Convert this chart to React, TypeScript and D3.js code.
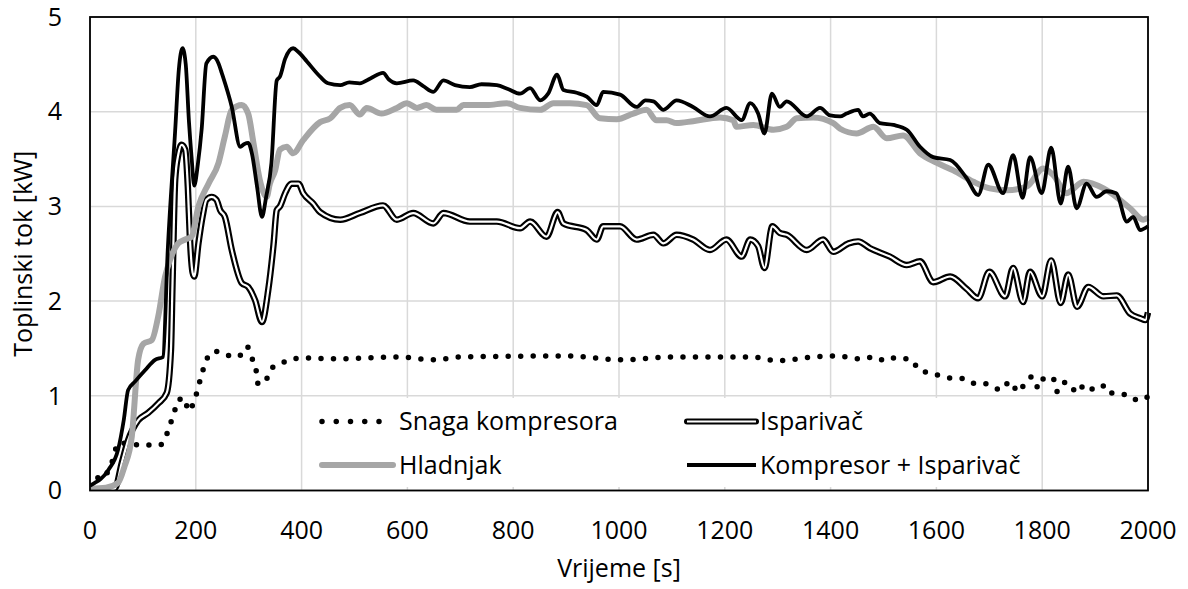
import React from "react";
import * as d3 from "d3";

const W = 1188;
const H = 589;

const xTicks = [0, 200, 400, 600, 800, 1000, 1200, 1400, 1600, 1800, 2000];
const yTicks = [0, 1, 2, 3, 4, 5];

// Kompresor + Isparivač
const kompT = [0, 9, 20, 35, 53, 64, 72, 85, 104, 123, 138, 147, 161, 168, 175, 181, 187, 192, 197, 204, 211, 220, 233, 243, 249, 268, 284, 292, 299, 306, 316, 325, 333, 343, 353, 359, 369, 384, 394, 410, 435, 450, 473, 490, 510, 530, 554, 565, 580, 611, 630, 649, 668, 690, 718, 740, 769, 790, 813, 832, 851, 866, 883, 895, 920, 939, 958, 970, 1002, 1033, 1050, 1065, 1084, 1109, 1140, 1172, 1203, 1232, 1248, 1263, 1275, 1289, 1304, 1317, 1355, 1380, 1399, 1418, 1430, 1452, 1461, 1474, 1493, 1519, 1544, 1569, 1594, 1626, 1657, 1679, 1698, 1726, 1745, 1763, 1777, 1799, 1817, 1835, 1849, 1865, 1884, 1903, 1922, 1940, 1960, 1972, 1985, 2000];
const kompV = [0.05, 0.08, 0.12, 0.22, 0.43, 0.75, 1.06, 1.15, 1.27, 1.38, 1.41, 2.54, 3.8, 4.45, 4.67, 4.5, 3.9, 3.52, 3.22, 3.45, 3.81, 4.51, 4.58, 4.51, 4.41, 4.05, 3.63, 3.66, 3.67, 3.56, 3.2, 2.89, 3.1, 3.46, 4.33, 4.37, 4.56, 4.67, 4.63, 4.53, 4.37, 4.3, 4.28, 4.31, 4.3, 4.35, 4.41, 4.34, 4.3, 4.33, 4.27, 4.21, 4.33, 4.28, 4.26, 4.29, 4.28, 4.24, 4.19, 4.25, 4.12, 4.19, 4.39, 4.23, 4.2, 4.16, 4.07, 4.21, 4.18, 4.05, 4.12, 4.11, 4.02, 4.12, 4.05, 3.95, 4.04, 3.91, 4.09, 3.98, 3.77, 4.19, 4.05, 4.11, 3.95, 4.04, 3.96, 3.95, 3.98, 4.02, 3.95, 3.98, 3.88, 3.86, 3.81, 3.63, 3.52, 3.49, 3.3, 3.12, 3.44, 3.14, 3.54, 3.09, 3.52, 3.14, 3.62, 3.03, 3.42, 2.98, 3.24, 3.1, 3.16, 3.14, 2.84, 2.89, 2.75, 2.79];

// Hladnjak
const hladT = [0, 30, 53, 65, 79, 91, 101, 117, 129, 142, 151, 167, 180, 192, 205, 224, 243, 255, 268, 287, 299, 309, 321, 334, 340, 350, 359, 372, 384, 403, 435, 454, 473, 491, 510, 523, 551, 580, 599, 618, 636, 655, 693, 706, 750, 788, 813, 851, 876, 907, 939, 964, 996, 1027, 1052, 1071, 1090, 1109, 1140, 1191, 1216, 1222, 1254, 1292, 1317, 1336, 1367, 1405, 1418, 1449, 1481, 1506, 1537, 1569, 1601, 1632, 1670, 1701, 1733, 1771, 1802, 1821, 1846, 1878, 1916, 1966, 1991, 2000];
const hladV = [0.02, 0.03, 0.08, 0.25, 0.57, 1.38, 1.55, 1.59, 1.84, 2.26, 2.43, 2.61, 2.65, 2.68, 3.0, 3.24, 3.46, 3.74, 4.02, 4.07, 3.98, 3.67, 3.28, 3.1, 3.24, 3.38, 3.6, 3.63, 3.56, 3.7, 3.89, 3.93, 4.04, 4.07, 3.97, 4.04, 3.98, 4.04, 4.09, 4.04, 4.07, 4.02, 4.02, 4.07, 4.07, 4.09, 4.04, 4.02, 4.09, 4.09, 4.07, 3.93, 3.92, 3.98, 4.02, 3.91, 3.91, 3.88, 3.9, 3.94, 3.91, 3.84, 3.86, 3.81, 3.84, 3.93, 3.94, 3.88, 3.82, 3.77, 3.84, 3.72, 3.75, 3.56, 3.46, 3.38, 3.26, 3.19, 3.17, 3.21, 3.4, 3.33, 3.14, 3.26, 3.19, 2.98, 2.86, 2.88];

// Isparivač
const ispT = [0, 47, 60, 72, 91, 110, 129, 145, 153, 156, 161, 167, 173, 180, 185, 189, 194, 197, 205, 213, 220, 230, 239, 246, 255, 268, 287, 299, 312, 325, 337, 347, 353, 359, 369, 381, 394, 403, 422, 435, 473, 510, 554, 580, 611, 649, 668, 718, 769, 813, 832, 863, 884, 895, 939, 958, 970, 1002, 1033, 1065, 1084, 1109, 1140, 1172, 1203, 1232, 1248, 1263, 1275, 1290, 1304, 1317, 1355, 1386, 1405, 1434, 1452, 1474, 1512, 1544, 1569, 1594, 1626, 1657, 1679, 1700, 1730, 1745, 1764, 1777, 1800, 1817, 1835, 1849, 1866, 1887, 1916, 1941, 1966, 1985, 1995, 2000];
const ispV = [0, 0.02, 0.29, 0.53, 0.74, 0.82, 0.92, 1.03, 1.48, 2.19, 3.28, 3.55, 3.65, 3.6, 3.2, 2.65, 2.3, 2.26, 2.61, 2.9, 3.07, 3.1, 3.07, 2.96, 2.89, 2.54, 2.19, 2.15, 2.01, 1.78, 2.12, 2.6, 2.96, 3.0, 3.14, 3.24, 3.24, 3.14, 3.03, 2.94, 2.86, 2.93, 3.01, 2.86, 2.93, 2.82, 2.93, 2.84, 2.84, 2.77, 2.84, 2.68, 2.94, 2.82, 2.75, 2.65, 2.79, 2.79, 2.65, 2.7, 2.61, 2.7, 2.65, 2.54, 2.65, 2.47, 2.65, 2.58, 2.35, 2.79, 2.72, 2.7, 2.54, 2.65, 2.52, 2.61, 2.63, 2.56, 2.47, 2.38, 2.42, 2.2, 2.26, 2.13, 2.03, 2.31, 2.05, 2.35, 1.99, 2.31, 2.05, 2.43, 1.98, 2.28, 1.94, 2.15, 2.05, 2.06, 1.87, 1.82, 1.8, 1.88];

// Snaga kompresora
const snagaT = [0, 6, 12, 20, 28, 41, 54, 65, 75, 91, 110, 132, 142, 151, 159, 167, 180, 185, 198, 205, 212, 220, 236, 258, 280, 297, 306, 314, 318, 333, 343, 361, 384, 410, 460, 580, 652, 700, 900, 1008, 1100, 1250, 1301, 1323, 1364, 1411, 1459, 1482, 1503, 1519, 1553, 1566, 1588, 1601, 1622, 1654, 1673, 1690, 1705, 1722, 1739, 1755, 1769, 1781, 1793, 1805, 1821, 1829, 1843, 1853, 1865, 1881, 1900, 1920, 1931, 1947, 1966, 1981, 2000];
const snagaV = [0.05, 0.11, 0.14, 0.12, 0.15, 0.29, 0.5, 0.5, 0.5, 0.48, 0.48, 0.48, 0.55, 0.69, 0.82, 0.96, 0.97, 0.84, 0.96, 1.1, 1.24, 1.38, 1.47, 1.43, 1.41, 1.52, 1.4, 1.27, 1.12, 1.17, 1.29, 1.34, 1.39, 1.4, 1.39, 1.41, 1.38, 1.41, 1.42, 1.38, 1.41, 1.41, 1.37, 1.38, 1.41, 1.42, 1.39, 1.41, 1.37, 1.4, 1.38, 1.28, 1.24, 1.22, 1.19, 1.18, 1.13, 1.13, 1.1, 1.06, 1.15, 1.04, 1.15, 1.2, 1.08, 1.2, 1.18, 1.04, 1.14, 1.12, 1.03, 1.12, 1.06, 1.11, 1.03, 1.02, 1.0, 0.95, 0.99];

const FONT = "'Open Sans', sans-serif";

export default function App() {
  const left = 90, right = 1148, top = 17, bottom = 490.5;
  const x = d3.scaleLinear().domain([0, 2000]).range([left, right]);
  const y = d3.scaleLinear().domain([0, 5]).range([bottom, top]);

  const mk = (T: number[], V: number[]) =>
    d3.line<number>().x((_, i) => x(T[i])).y((v) => y(v)).curve(d3.curveMonotoneX)(V) || "";

  const kompPath = mk(kompT, kompV);
  const hladPath = mk(hladT, hladV);
  const ispPath = mk(ispT, ispV);
  const snagaPath = mk(snagaT, snagaV);

  const fs = 25;

  return (
    <svg width={W} height={H} style={{ position: "absolute", left: 0, top: 0, background: "#fff" }}>
      <defs>
        <clipPath id="plot">
          <rect x={left} y={top - 3} width={right - left + 3} height={bottom - top + 3} />
        </clipPath>
      </defs>
      <rect x={0} y={0} width={W} height={H} fill="#fff" />
      {xTicks.map((t) => (
        <line key={"gx" + t} x1={x(t)} x2={x(t)} y1={top} y2={bottom} stroke="#d9d9d9" strokeWidth={1.5} />
      ))}
      {yTicks.map((t) => (
        <line key={"gy" + t} x1={left} x2={right} y1={y(t)} y2={y(t)} stroke="#d9d9d9" strokeWidth={1.5} />
      ))}
      <g clipPath="url(#plot)" fill="none" strokeLinejoin="round">
        <path d={snagaPath} stroke="#000" strokeWidth={5.5} strokeDasharray="0 12.5" strokeLinecap="round" />
        <path d={ispPath} stroke="#000" strokeWidth={6.5} />
        <path d={ispPath} stroke="#fff" strokeWidth={2.2} />
        <path d={hladPath} stroke="#a6a6a6" strokeWidth={6} />
        <path d={kompPath} stroke="#000" strokeWidth={3.8} />
      </g>
      <rect x={left} y={top} width={right - left} height={bottom - top} fill="none" stroke="#000" strokeWidth={1.8} />
      {/* legend */}
      <rect x={308} y={398} width={727} height={89} fill="#fff" />
      <g fontFamily={FONT} fontSize={fs} fill="#000">
        <line x1={322} x2={381} y1={421.5} y2={421.5} stroke="#000" strokeWidth={5.5} strokeDasharray="0 14.25" strokeLinecap="round" />
        <text x={399} y={421.5} dy="0.35em">Snaga kompresora</text>
        <line x1={322} x2={393} y1={465} y2={465} stroke="#a6a6a6" strokeWidth={6} strokeLinecap="round" />
        <text x={399} y={465} dy="0.35em">Hladnjak</text>
        <line x1={687} x2={756} y1={421.5} y2={421.5} stroke="#000" strokeWidth={6} strokeLinecap="round" />
        <line x1={687} x2={756} y1={421.5} y2={421.5} stroke="#fff" strokeWidth={2.2} />
        <text x={760} y={421.5} dy="0.35em">Isparivač</text>
        <line x1={687} x2={756} y1={465} y2={465} stroke="#000" strokeWidth={3.8} />
        <text x={760} y={465} dy="0.35em">Kompresor + Isparivač</text>
      </g>
      <g fontFamily={FONT} fontSize={fs} fill="#000">
        {xTicks.map((t) => (
          <text key={"xl" + t} x={x(t)} y={539} textAnchor="middle">{t}</text>
        ))}
        {yTicks.map((t) => (
          <text key={"yl" + t} x={62} y={y(t)} dy="0.35em" textAnchor="end">{t}</text>
        ))}
        <text x={(left + right) / 2} y={577} textAnchor="middle">Vrijeme [s]</text>
        <text transform={`translate(32, ${(top + bottom) / 2}) rotate(-90)`} textAnchor="middle">Toplinski tok [kW]</text>
      </g>
    </svg>
  );
}
